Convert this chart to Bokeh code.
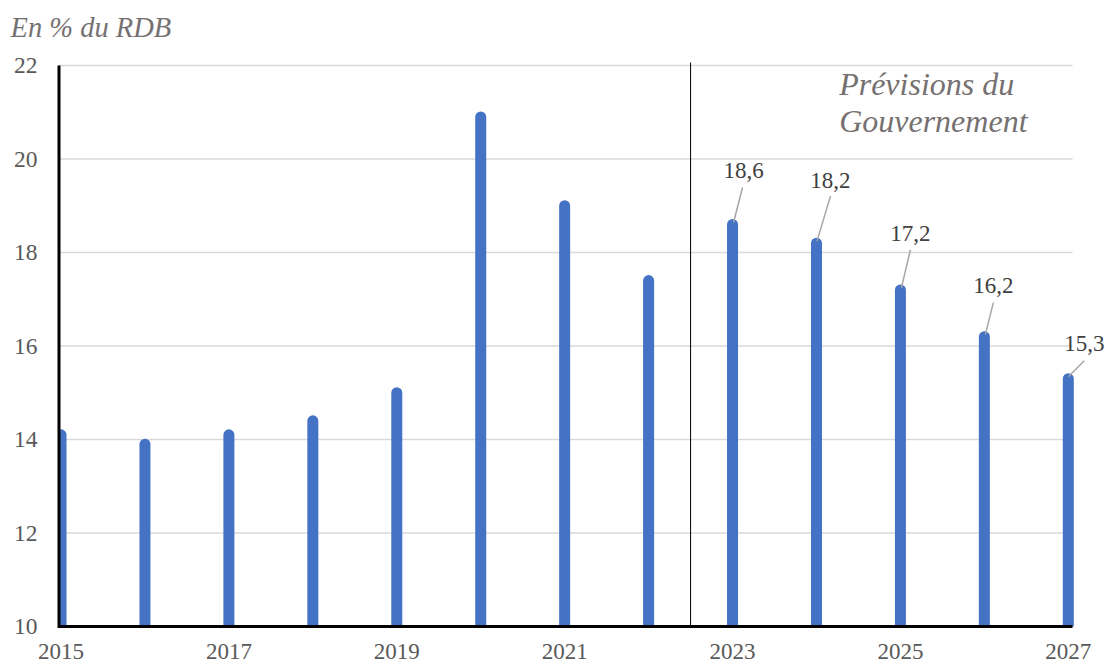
from bokeh.plotting import figure
from bokeh.models import Range1d, Label, ColumnDataSource
from bokeh.core.properties import value
from bokeh.embed import file_html
from bokeh.resources import INLINE

# Household savings rate, % of gross disposable income
years = [2015, 2016, 2017, 2018, 2019, 2020, 2021, 2022, 2023, 2024, 2025, 2026, 2027]
rates = [14.1, 13.9, 14.1, 14.4, 15.0, 20.9, 19.0, 17.4, 18.6, 18.2, 17.2, 16.2, 15.3]
x_ticks = [2015, 2017, 2019, 2021, 2023, 2025, 2027]
y_ticks = [10, 12, 14, 16, 18, 20, 22]
forecast_start = 2023
labelled_years = [2023, 2024, 2025, 2026, 2027]

# label placement relative to bar tip, in pixels (dx right, dy up)
label_offsets = [(11, 54), (14, 63), (10, 56), (9, 51), (16, 35)]
leader_starts = [(10, 37), (14, 47), (10, 40), (9, 34), (16, 18)]
leader_ends = [(1, 2), (0.5, 2), (1, 2), (1, 2), (0, 2)]

FONT = "Liberation Serif"
W, H = 1105, 664
LEFT = 58
PX_X = 83.94          # pixels per year
PX_Y = 46.75          # pixels per percentage point
X0, X_END = 2014.97, 2027.05            # extent of the gridded area
XF0 = X0 - LEFT / PX_X                  # frame covers the whole page
XF1 = X0 + (W - LEFT) / PX_X
Y0 = 10 - 38 / PX_Y
Y1 = 22 + 65 / PX_Y

p = figure(width=W, height=H, output_backend="svg", toolbar_location=None,
           x_range=Range1d(XF0, XF1), y_range=Range1d(Y0, Y1),
           x_axis_location=None, y_axis_location=None,
           min_border_left=0, min_border_right=0,
           min_border_top=0, min_border_bottom=0)
p.outline_line_color = None
p.background_fill_color = "white"
p.border_fill_color = "white"
p.xgrid.grid_line_color = None
p.ygrid.grid_line_color = None

# grid lines stop at the last category
p.segment(x0=[X0] * (len(y_ticks) - 1), y0=y_ticks[1:], x1=[X_END] * (len(y_ticks) - 1),
          y1=y_ticks[1:], line_color="#d9d9d9", line_width=1.5)

# bars drawn as thick round-capped strokes
src = ColumnDataSource(dict(x=years, y0=[10] * len(years), y1=rates))
p.segment(x0="x", y0="y0", x1="x", y1="y1", source=src,
          line_color="#4472C4", line_width=11, line_cap="round")

# keep the area outside the axes clean
p.quad(left=[XF0], right=[X0], bottom=[Y0], top=[Y1], fill_color="white", line_color=None)
p.quad(left=[XF0], right=[XF1], bottom=[Y0], top=[10], fill_color="white", line_color=None)

# tick labels
p.text(x=[X0 - 21 / PX_X] * len(y_ticks), y=y_ticks, text=[str(t) for t in y_ticks],
       text_font=value(FONT), text_font_size="23.5px", text_color="#595959",
       text_align="right", text_baseline="middle")
p.text(x=x_ticks, y=[10 - 25 / PX_Y] * len(x_ticks), text=[str(t) for t in x_ticks],
       text_font=value(FONT), text_font_size="23px", text_color="#595959",
       text_align="center", text_baseline="middle")

# axis lines
p.segment(x0=[X0], y0=[10], x1=[X_END], y1=[10], line_color="black", line_width=3)
p.segment(x0=[X0 + 0.5 / PX_X], y0=[10 - 1.5 / PX_Y], x1=[X0 + 0.5 / PX_X], y1=[22],
          line_color="black", line_width=3)

# separator between observed and forecast years
p.segment(x0=[forecast_start - 0.5], y0=[10], x1=[forecast_start - 0.5], y1=[22 + 3 / PX_Y],
          line_color="black", line_width=1)

# labels with leader lines for forecast years
lab_x, lab_y, lab_txt = [], [], []
lx0, ly0, lx1, ly1 = [], [], [], []
for i, yr in enumerate(labelled_years):
    v = rates[years.index(yr)]
    dx, dy = label_offsets[i]
    lab_x.append(yr + dx / PX_X)
    lab_y.append(v + dy / PX_Y)
    lab_txt.append(f"{v:.1f}".replace(".", ","))
    sx, sy = leader_starts[i]
    ex, ey = leader_ends[i]
    lx0.append(yr + sx / PX_X)
    ly0.append(v + sy / PX_Y)
    lx1.append(yr + ex / PX_X)
    ly1.append(v + ey / PX_Y)

p.segment(x0=lx0, y0=ly0, x1=lx1, y1=ly1, line_color="#a6a6a6", line_width=1.5)
p.text(x=lab_x, y=lab_y, text=lab_txt, text_font=value(FONT), text_font_size="23px",
       text_color="#404040", text_align="center", text_baseline="middle")

# unit caption above the y axis
p.add_layout(Label(x=XF0 + 10 / PX_X, y=22 + 38 / PX_Y, text="En % du RDB",
                   text_font=FONT, text_font_style="italic", text_font_size="28.5px",
                   text_color="#767171", text_baseline="middle", text_align="left"))

# forecast annotation
for txt, yy in (("Prévisions du", 21.61), ("Gouvernement", 20.82)):
    p.add_layout(Label(x=2024.27, y=yy, text=txt, text_font=FONT,
                       text_font_style="italic", text_font_size="32px",
                       text_color="#767171", text_baseline="alphabetic"))

open("out.html", "w").write(file_html(p, INLINE))
